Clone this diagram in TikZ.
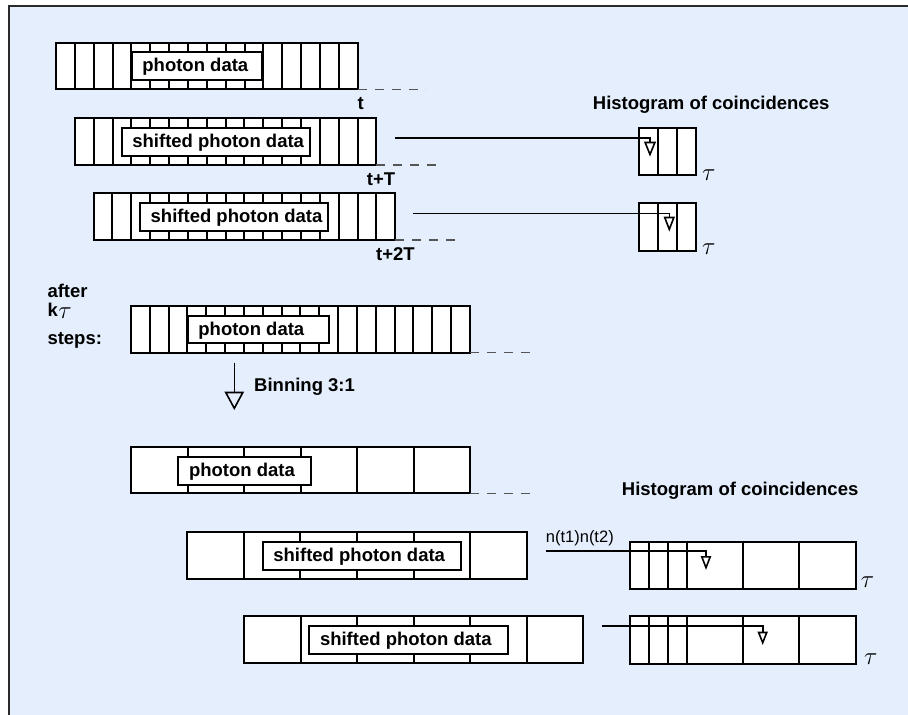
\documentclass[tikz,border=0pt]{standalone}
\usepackage{fontspec}
\setmainfont{Liberation Sans}
\usetikzlibrary{arrows.meta}
\definecolor{bgblue}{HTML}{E4EEFD}
\definecolor{framecol}{HTML}{2A2A2A}
\definecolor{dashgray}{HTML}{555555}
\tikzset{
  regbox/.style={draw, fill=white, line width=2pt, inner sep=0pt, outer sep=0pt, anchor=north west},
  cellline/.style={line width=2pt},
  lblbox/.style={draw, fill=white, line width=2pt, inner sep=0pt, outer sep=0pt, anchor=north west},
  lbl/.style={font=\fontsize{18.5}{20}\selectfont\bfseries, inner sep=0pt, anchor=base west},
  smalllbl/.style={font=\fontsize{16.5}{18}\selectfont, inner sep=0pt, anchor=base west},
  taulbl/.style={font=\fontsize{24.88}{26}\selectfont, inner sep=0pt, anchor=center},
  dashline/.style={dashgray, line width=1.3pt, dash pattern=on 9pt off 8pt},
  conn/.style={line width=1.6pt},
}
\newcommand\myreg[6]{%
  \node[regbox, minimum width={(#4*#5)*1pt}, minimum height={#6*1pt}] (#1) at (#2,#3) {};
  \pgfmathtruncatemacro\mynn{#4-1}
  \foreach \i in {1,...,\mynn}{\draw[cellline] (#2+\i*#5,#3) -- ++(0,#6);}
}
\newcommand\mylbl[6]{%
  \node[lblbox, minimum width={#4*1pt}, minimum height={#5*1pt}] (#1) at (#2,#3) {};
  \node[lbl] (#1t) at ([xshift=10.5pt, yshift=-5.5pt]#1.west) {#6};
}
\begin{document}
\begin{tikzpicture}[x=1pt, y=-1pt]
\useasboundingbox (0,0) rectangle (908,715);
\fill[white] (0,0) rectangle (908,715);
\fill[bgblue] (9,5.7) rectangle (908,715);
\draw[framecol, line width=1.8pt] (908,5.7) -- (9,5.7) -- (9,715);

% ---------- upper part ----------
\myreg{r1}{56}{43.3}{16}{18.85}{46}
\mylbl{l1}{131.7}{52.3}{130}{28}{photon data}
\draw[dashline] (r1.south east) -- ++(68,0);
\node[lbl] (tl1) at (357.3,109.3) {t};

\myreg{r2}{74.8}{118.3}{16}{18.85}{46.7}
\mylbl{l2}{121.7}{128}{188.3}{27.7}{shifted photon data}
\draw[dashline] (r2.south east) -- ++(67,0);
\node[lbl] (tl2) at (366.7,185) {t+T};

\myreg{r3}{93.6}{193.3}{16}{18.85}{46.7}
\mylbl{l3}{140}{202.7}{188.3}{28.3}{shifted photon data}
\draw[dashline] (r3.south east) -- ++(67,0);
\node[lbl] (tl3) at (376,260) {t+2T};

\node[lbl] (title1) at (592.7,109) {Histogram of coincidences};

\myreg{h1}{639.3}{127.7}{3}{18.9}{47.6}
\myreg{h2}{639.3}{203.3}{3}{18.9}{47.4}
\node[taulbl] (tau1) at (708.7,175) {$\tau$};
\node[taulbl] (tau2) at (708.7,249.3) {$\tau$};

\coordinate (c1s) at (395,137.7);
\coordinate (c1e) at (650,156.7);
\draw[conn, -{Triangle[open, length=15pt, width=11.7pt]}] (c1s) -| (c1e);
\coordinate (c2s) at (413.3,213.3);
\coordinate (c2e) at (669.3,231.7);
\draw[conn, -{Triangle[open, length=15pt, width=11pt]}] (c2s) -| (c2e);

% ---------- after k tau steps ----------
\node[lbl] (after) at (47.3,297.8) {after};
\node[lbl] (kk) at (47.3,316.7) {k};
\node[taulbl] (ktau) at (65,313.5) {$\tau$};
\node[lbl] (steps) at (47.3,344.3) {steps:};

\myreg{r4}{131}{306}{18}{18.83}{46.7}
\mylbl{l4}{187.7}{315.7}{141.3}{27.6}{photon data}
\draw[dashline] (r4.south east) -- ++(67,0);

\coordinate (b1) at (234.3,362.7);
\coordinate (b2) at (234.3,410);
\draw[conn, -{Triangle[open, length=18.3pt, width=19.3pt]}] (b1) -- (b2);
\node[lbl] (bin) at (254,391.7) {Binning 3:1};

% ---------- binned ----------
\myreg{r5}{131}{446.7}{6}{56.5}{46.6}
\mylbl{l5}{178.3}{456.7}{132.7}{28.3}{photon data}
\draw[dashline] (r5.south east) -- ++(67,0);

\node[lbl] (title2) at (621.7,495) {Histogram of coincidences};

\myreg{r6}{187.3}{531.7}{6}{56.57}{47.3}
\mylbl{l6}{262.7}{541.7}{198}{28.3}{shifted photon data}

\myreg{r7}{244}{616}{6}{56.55}{47.3}
\mylbl{l7}{309.3}{625.7}{198.4}{28.6}{shifted photon data}

\node[regbox, minimum width=226.3pt, minimum height=47pt] (h3) at (629.7,541.7) {};
\foreach \xx in {649,667.7,686.7,743,799.3} \draw[cellline] (\xx,541.7) -- ++(0,47);
\node[regbox, minimum width=226.3pt, minimum height=47.7pt] (h4) at (629.7,616) {};
\foreach \xx in {649,667.7,686.7,743,799.3} \draw[cellline] (\xx,616) -- ++(0,47.7);
\node[regbox, fill=none, minimum width=19pt, minimum height=48.1pt] (h4c) at (667.7,616) {};

\node[taulbl] (tau3) at (867.5,581.7) {$\tau$};
\node[taulbl] (tau4) at (870.8,659) {$\tau$};

\node[smalllbl] (nn) at (545.7,542.3) {n(t1)n(t2)};
\coordinate (c3s) at (545.7,551);
\coordinate (c3e) at (706,570);
\draw[conn, -{Triangle[open, length=14pt, width=10.3pt]}] (c3s) -| (c3e);
\coordinate (c4s) at (601.7,626);
\coordinate (c4e) at (762.7,645);
\draw[conn, -{Triangle[open, length=13.3pt, width=10pt]}] (c4s) -| (c4e);
\end{tikzpicture}
\end{document}
